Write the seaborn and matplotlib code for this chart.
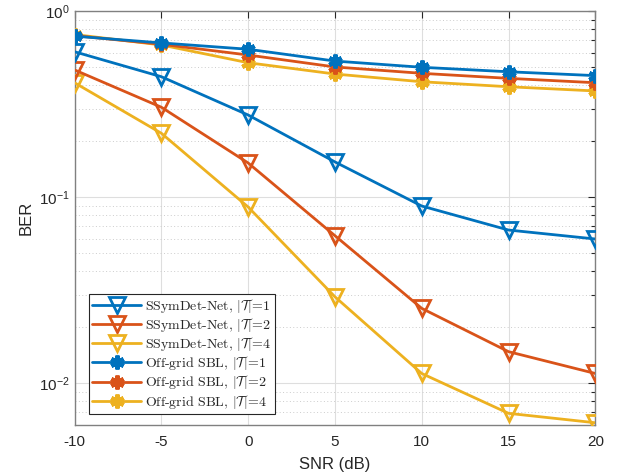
import numpy as np
import pandas as pd
import matplotlib
matplotlib.use("Agg")
import matplotlib.pyplot as plt
import seaborn as sns

snr = [-10, -5, 0, 5, 10, 15, 20]

ssd_t1 = [0.606, 0.445, 0.277, 0.155, 0.0898, 0.0667, 0.0597]
ssd_t2 = [0.484, 0.305, 0.153, 0.0622, 0.0253, 0.0148, 0.0113]
ssd_t4 = [0.413, 0.221, 0.0887, 0.0292, 0.0113, 0.0069, 0.00614]
sbl_t1 = [0.735, 0.676, 0.625, 0.540, 0.500, 0.473, 0.451]
sbl_t2 = [0.740, 0.665, 0.582, 0.502, 0.464, 0.436, 0.413]
sbl_t4 = [0.750, 0.659, 0.529, 0.460, 0.418, 0.393, 0.373]

labels = [r"SSymDet-Net, $|\mathcal{T}|$=1",
          r"SSymDet-Net, $|\mathcal{T}|$=2",
          r"SSymDet-Net, $|\mathcal{T}|$=4",
          r"Off-grid SBL, $|\mathcal{T}|$=1",
          r"Off-grid SBL, $|\mathcal{T}|$=2",
          r"Off-grid SBL, $|\mathcal{T}|$=4"]
series = [ssd_t1, ssd_t2, ssd_t4, sbl_t1, sbl_t2, sbl_t4]

sns.set_theme(style="white")
plt.rcParams['font.family'] = ['Liberation Sans', 'DejaVu Sans']
plt.rcParams['mathtext.fontset'] = 'cm'

colors = ["#0072BD", "#D95319", "#EDB120"]
axc = "#262626"

fig = plt.figure(figsize=(6.18, 4.76), dpi=100)
ax = fig.add_axes([0.1206, 0.1071, 0.8427, 0.8692])

for i, (lab, vals) in enumerate(zip(labels, series)):
    c = colors[i % 3]
    if i < 3:
        mk = dict(marker="v", markersize=12, markerfacecolor="none",
                  markeredgecolor=c, markeredgewidth=2.0)
    else:
        mk = dict(marker=(6, 2, 0), markersize=10, markerfacecolor=c,
                  markeredgecolor=c, markeredgewidth=3.0)
    df = pd.DataFrame({"SNR": snr, "BER": vals})
    sns.lineplot(data=df, x="SNR", y="BER", ax=ax, color=c, linewidth=2.0,
                 label=lab, zorder=3 + (5 - i), **mk)

ax.set_yscale("log")
ax.set_xlim(-10, 20)
ax.set_ylim(10 ** -2.224, 1)
ax.set_xticks([-10, -5, 0, 5, 10, 15, 20])
ax.set_xticklabels(["-10", "-5", "0", "5", "10", "15", "20"])

ax.grid(True, which="major", axis="both", color="#dedede", linewidth=0.8, linestyle="-")
ax.grid(True, which="minor", axis="y", color="#cccccc", linewidth=0.7, linestyle=(0, (1, 2.5)))
ax.set_axisbelow(True)

ax.tick_params(which="both", direction="in", top=True, right=True, colors=axc,
               labelsize=11, labelcolor=axc)
ax.tick_params(which="major", length=5, width=0.8)
ax.tick_params(which="minor", length=3, width=0.8)
ax.tick_params(axis="x", which="major", pad=7)
ax.tick_params(axis="x", which="minor", bottom=False, top=False)
for s in ax.spines.values():
    s.set_visible(True)
    s.set_color("#808080")
    s.set_linewidth(1.0)

ax.set_xlabel("SNR (dB)", fontsize=12, color=axc, labelpad=6)
ax.set_ylabel("BER", fontsize=12, color=axc)

leg = ax.legend(loc="lower left", bbox_to_anchor=(0.0278, 0.0266), borderaxespad=0,
                prop={"family": "cmr10", "size": 10}, frameon=True, fancybox=False,
                framealpha=1, edgecolor=axc, handlelength=3.5, handletextpad=0.3,
                labelspacing=0.08, borderpad=0.25)
leg.get_frame().set_linewidth(0.8)

fig.savefig("out.png", dpi=100)
